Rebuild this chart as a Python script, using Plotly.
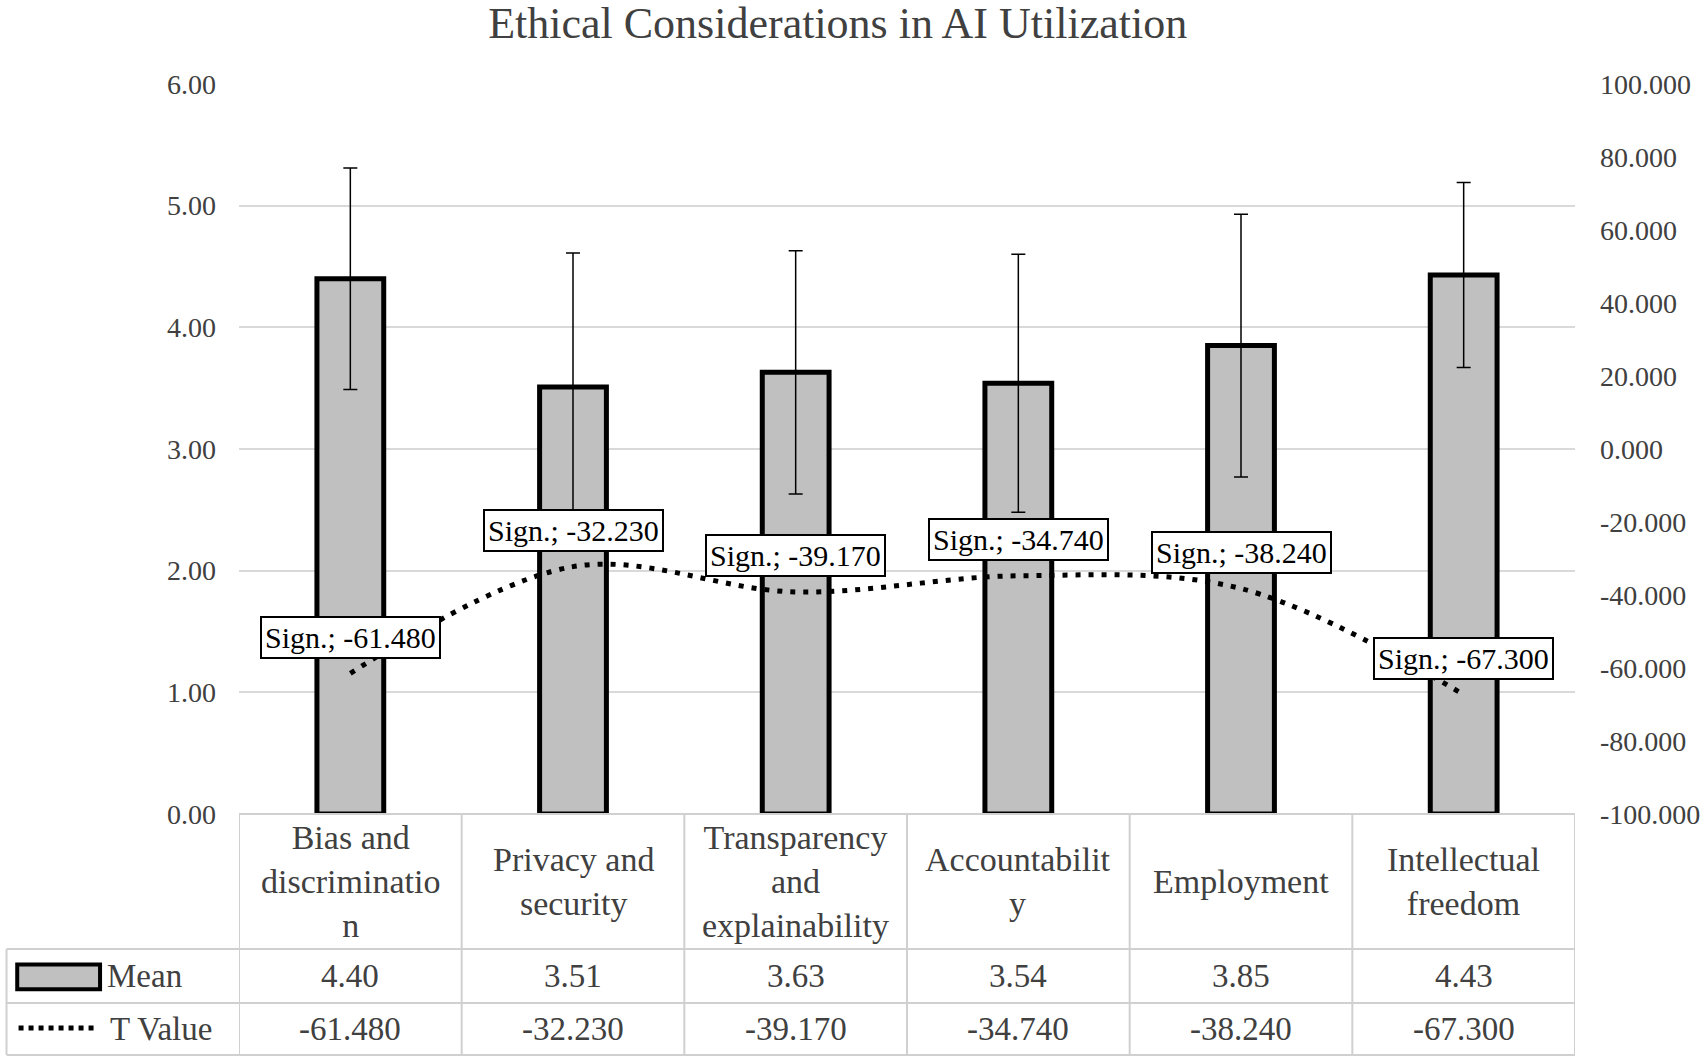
import plotly.graph_objects as go

# chart values
categories = ["Bias and<br>discriminatio<br>n", "Privacy and<br>security",
              "Transparency<br>and<br>explainability", "Accountabilit<br>y",
              "Employment", "Intellectual<br>freedom"]
mean_vals = [4.40, 3.51, 3.63, 3.54, 3.85, 4.43]
mean_sd = [0.91, 1.10, 1.00, 1.06, 1.08, 0.76]
t_vals = [-61.480, -32.230, -39.170, -34.740, -38.240, -67.300]
row_names = ["Mean", "T Value"]
left_ticks = [0, 1, 2, 3, 4, 5, 6]
right_ticks = [-100, -80, -60, -40, -20, 0, 20, 40, 60, 80, 100]

FONT = "Liberation Serif"
TXT = "#404040"
GRID = "#D9D9D9"
xs = list(range(len(categories)))

fig = go.Figure()

fig.add_trace(go.Bar(
    x=xs, y=mean_vals, name=row_names[0], width=0.3,
    marker=dict(color="#C0C0C0", line=dict(color="black", width=5)),
    error_y=dict(type="data", array=mean_sd, visible=True,
                 color="black", thickness=1.5, width=7),
))

fig.add_trace(go.Scatter(
    x=xs, y=t_vals, name=row_names[1], yaxis="y2", mode="lines",
    line=dict(color="black", width=5, dash="5px,8px", shape="spline", smoothing=1),
))

# data labels on the T value line
for i, t in enumerate(t_vals):
    fig.add_annotation(x=i, y=t, xref="x", yref="y2", yshift=36,
                       text="Sign.; %.3f" % t, showarrow=False,
                       font=dict(family=FONT, size=30, color="black"),
                       bgcolor="white", bordercolor="black", borderwidth=2, borderpad=3)

# data table under the plot
y_head = -0.185
y_mean = -0.259
y_t = -0.330
x_left = -0.174
line_c = dict(color="#D0D0D0", width=2)
shapes = []
shapes.append(dict(type="line", xref="paper", yref="paper", x0=0, x1=1, y0=0, y1=0, line=line_c))
for yy in [y_head, y_mean, y_t]:
    shapes.append(dict(type="line", xref="paper", yref="paper", x0=x_left, x1=1, y0=yy, y1=yy, line=line_c))
shapes.append(dict(type="line", xref="paper", yref="paper", x0=x_left, x1=x_left, y0=y_head, y1=y_t, line=line_c))
for b in range(len(categories) + 1):
    shapes.append(dict(type="line", xref="x", yref="paper", x0=b - 0.5, x1=b - 0.5, y0=0, y1=y_t, line=line_c))
# legend keys
shapes.append(dict(type="rect", xref="paper", yref="paper", x0=-0.166, x1=-0.104, y0=-0.206, y1=-0.240,
                   fillcolor="#C0C0C0", line=dict(color="black", width=4)))
shapes.append(dict(type="line", xref="paper", yref="paper", x0=-0.165, x1=-0.108, y0=-0.293, y1=-0.293,
                   line=dict(color="black", width=5, dash="5px,5px")))

cat_font = dict(family=FONT, size=34, color=TXT)
row_font = dict(family=FONT, size=33, color=TXT)
for i, c in enumerate(categories):
    fig.add_annotation(x=i, y=y_head / 2, xref="x", yref="paper", text=c, showarrow=False,
                       font=cat_font, yanchor="middle")
    fig.add_annotation(x=i, y=(y_head + y_mean) / 2, xref="x", yref="paper", text="%.2f" % mean_vals[i],
                       showarrow=False, font=row_font, yanchor="middle")
    fig.add_annotation(x=i, y=(y_mean + y_t) / 2, xref="x", yref="paper", text="%.3f" % t_vals[i],
                       showarrow=False, font=row_font, yanchor="middle")
fig.add_annotation(x=-0.1, y=(y_head + y_mean) / 2, xref="paper", yref="paper", text=row_names[0],
                   showarrow=False, font=row_font, xanchor="left", yanchor="middle")
fig.add_annotation(x=-0.098, y=(y_mean + y_t) / 2, xref="paper", yref="paper", text=row_names[1],
                   showarrow=False, font=row_font, xanchor="left", yanchor="middle")

fig.update_layout(
    width=1706, height=1062,
    margin=dict(l=239, r=131, t=84, b=248, autoexpand=False),
    paper_bgcolor="white", plot_bgcolor="white",
    title=dict(text="Ethical Considerations in AI Utilization", x=0.491, xanchor="center",
               y=0.979, yanchor="middle", font=dict(family=FONT, size=44, color=TXT)),
    showlegend=False,
    shapes=shapes,
    xaxis=dict(range=[-0.5, 5.5], showticklabels=False, showgrid=False, zeroline=False, ticks="",
               automargin=False),
    yaxis=dict(range=[0, 6], tickvals=left_ticks, ticktext=["%.2f" % v for v in left_ticks],
               showgrid=True, gridcolor=GRID, gridwidth=2, automargin=False,
               zeroline=False, ticks="", ticklabelstandoff=22,
               tickfont=dict(family=FONT, size=28, color=TXT)),
    yaxis2=dict(range=[-100, 100], tickvals=right_ticks, ticktext=["%.3f" % v for v in right_ticks],
                overlaying="y", side="right", automargin=False,
                showgrid=False, zeroline=False, ticks="", ticklabelstandoff=24,
                tickfont=dict(family=FONT, size=28, color=TXT)),
)

# drop the default page margin so the figure sits at the window corner
fig.write_html("out.html", config={"displayModeBar": False},
               post_script="document.body.style.margin='0';")
